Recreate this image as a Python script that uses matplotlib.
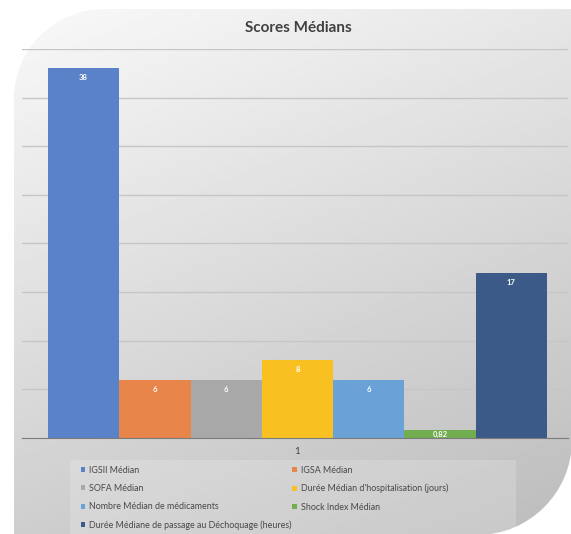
import numpy as np
import matplotlib.pyplot as plt
from matplotlib.path import Path
from matplotlib.patches import PathPatch, Rectangle

plt.rcParams['font.family'] = ['Lato', 'DejaVu Sans']

series = ['IGSII Médian', 'IGSA Médian', 'SOFA Médian',
          "Durée Médian d'hospitalisation (jours)",
          'Nombre Médian de médicaments', 'Shock Index Médian',
          'Durée Médiane de passage au Déchoquage (heures)']
values = [38, 6, 6, 8, 6, 0.82, 17]
value_labels = ['38', '6', '6', '8', '6', '0,82', '17']
colors = ['#5a82c8', '#e8854a', '#a8a8a8', '#f8c020', '#6aa2d8', '#72ad50', '#3c5a88']
category = '1'

W, H = 571, 534
fig = plt.figure(figsize=(W / 100, H / 100), dpi=100)

# background card: grey gradient with two rounded corners
bg = fig.add_axes([0, 0, 1, 1])
bg.set_xlim(0, W)
bg.set_ylim(H, 0)
bg.axis('off')
xx, yy = np.meshgrid(np.linspace(0, 1, 300), np.linspace(0, 1, 300))
shade = (250 - 62 * (0.3 * xx + 0.7 * yy)) / 255
im = bg.imshow(shade, cmap='gray', vmin=0, vmax=1, extent=(0, W, H, 0),
               aspect='auto', interpolation='bilinear')
k = 0.552
r1, r2 = 90, 95
left, top, right, bottom = 14, 9, W + 1, H + 1
verts = [(left, bottom), (left, top + r1),
         (left, top + r1 - k * r1), (left + r1 - k * r1, top), (left + r1, top),
         (right, top), (right, bottom - r2),
         (right, bottom - r2 + k * r2), (right - r2 + k * r2, bottom), (right - r2, bottom),
         (left, bottom)]
codes = [Path.MOVETO, Path.LINETO,
         Path.CURVE4, Path.CURVE4, Path.CURVE4,
         Path.LINETO, Path.LINETO,
         Path.CURVE4, Path.CURVE4, Path.CURVE4,
         Path.CLOSEPOLY]
card = PathPatch(Path(verts, codes), facecolor='none', edgecolor='none',
                 transform=bg.transData)
bg.add_patch(card)
im.set_clip_path(card)

# legend panel
bg.add_patch(Rectangle((70, 460), 446, 80, facecolor='white', alpha=0.18,
                       edgecolor='none'))

fig.text(298 / W, 1 - 28 / H, 'Scores Médians', ha='center', va='center',
         fontsize=11, fontweight='bold', color='#404040')

ax = fig.add_axes([22 / W, 1 - 438 / H, (568 - 22) / W, (438 - 49) / H])
ax.patch.set_alpha(0)
x = np.arange(len(values))
bars = ax.bar(x, values, width=1.0, color=colors, label=series, zorder=2)
ax.set_xlim(-0.5 - 26 / 71.3, 6.5 + 21 / 71.3)
ax.set_ylim(0, 40)
ax.set_yticks(np.arange(5, 41, 5))
ax.yaxis.grid(True, color='#c6c6c6', linewidth=1)
ax.set_axisbelow(True)
ax.tick_params(left=False, labelleft=False, bottom=False)
ax.set_xticks([3])
ax.set_xticklabels([category], fontsize=7, color='#404040')
ax.tick_params(axis='x', pad=3)
for s in ['top', 'right', 'left']:
    ax.spines[s].set_visible(False)
ax.spines['bottom'].set_color('#7a7a7a')
ax.spines['bottom'].set_zorder(3)

for xi, v, lab in zip(x, values, value_labels):
    ax.annotate(lab, (xi, max(v, 1.3)), xytext=(0, -6), textcoords='offset pixels',
                ha='center', va='top', fontsize=5.5, fontweight='bold',
                color='white', zorder=4)

handles = list(bars)
order = [0, 2, 4, 6, 1, 3, 5]
leg = ax.legend([handles[i] for i in order], [series[i] for i in order],
                ncol=2, loc='upper left', bbox_to_anchor=(77 / W, 1 - 462 / H),
                bbox_transform=fig.transFigure, frameon=False, fontsize=6.4,
                handlelength=0.5, handleheight=0.5, handletextpad=0.45,
                columnspacing=0.1, labelspacing=1.05, borderaxespad=0,
                labelcolor='#484848')

fig.savefig('out.png', dpi=100)
